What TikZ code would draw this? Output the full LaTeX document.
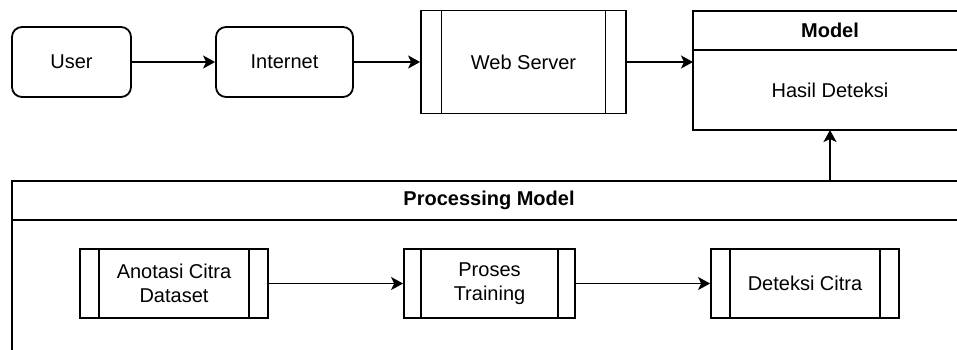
\documentclass[tikz,border=0pt]{standalone}
\usepackage{fontspec}
\setmainfont{Liberation Sans}
\usepackage{tikz}
\usetikzlibrary{arrows.meta,calc}

\begin{document}
\begin{tikzpicture}[x=0.5pt, y=-0.5pt, line width=0.9pt, font=\fontsize{10}{12}\selectfont,
    roundbox/.style={draw, rounded corners=5pt, minimum width=#1, minimum height=35pt, inner sep=0pt},
    procbox/.style={draw, inner sep=0pt, align=center, path picture={
        \draw ($(path picture bounding box.north west)!0.1!(path picture bounding box.north east)$) -- ($(path picture bounding box.south west)!0.1!(path picture bounding box.south east)$);
        \draw ($(path picture bounding box.north east)!0.1!(path picture bounding box.north west)$) -- ($(path picture bounding box.south east)!0.1!(path picture bounding box.south west)$);}},
    lanebox/.style={draw, inner sep=0pt, outer sep=0pt, minimum width=#1},
    flow/.style={-{Stealth[length=6pt, width=6.5pt, inset=1.5pt]}}]
        \useasboundingbox (0,0) rectangle (957,349);

        % Top row
        \node[roundbox=59.5pt] (User) at (71.5, 62) {User};
        \node[roundbox=68.5pt] (Internet) at (284.5, 62) {Internet};
        \node[procbox, minimum width=102.5pt, minimum height=51.5pt] (WebServer) at (523.5, 62) {Web Server};

        % Model lane
        \node[lanebox=137pt, minimum height=19.5pt, font=\fontsize{10}{12}\selectfont\bfseries] (ModelHead) at (830, 30.5) {Model};
        \node[lanebox=137pt, minimum height=40pt, anchor=north] (ModelBody) at (ModelHead.south) {Hasil Deteksi};

        % Processing lane
        \node[lanebox=477pt, minimum height=19.5pt, font=\fontsize{10}{12}\selectfont\bfseries] (ProcHead) at (489, 200.5) {Processing Model};
        \node[lanebox=477pt, minimum height=70pt, anchor=north] (ProcBody) at (ProcHead.south) {};

        \node[procbox, minimum width=94pt, minimum height=34.5pt] (Anotasi) at (174, 283.5) {Anotasi Citra\\Dataset};
        \node[procbox, minimum width=85.5pt, minimum height=34.5pt] (Training) at (489.5, 283.5) {Proses\\Training};
        \node[procbox, minimum width=94pt, minimum height=34.5pt] (Deteksi) at (805, 283.5) {Deteksi Citra};

        % Arrows
        \draw[flow] (User) -- (Internet);
        \draw[flow] (Internet) -- (WebServer);
        \draw[flow] (WebServer.east) -- (WebServer.east -| ModelBody.west);
        \draw[flow] (Anotasi) -- (Training);
        \draw[flow] (Training) -- (Deteksi);
        \draw[flow] (ModelBody.south |- ProcHead.north) -- (ModelBody.south);
\end{tikzpicture}
\end{document}
